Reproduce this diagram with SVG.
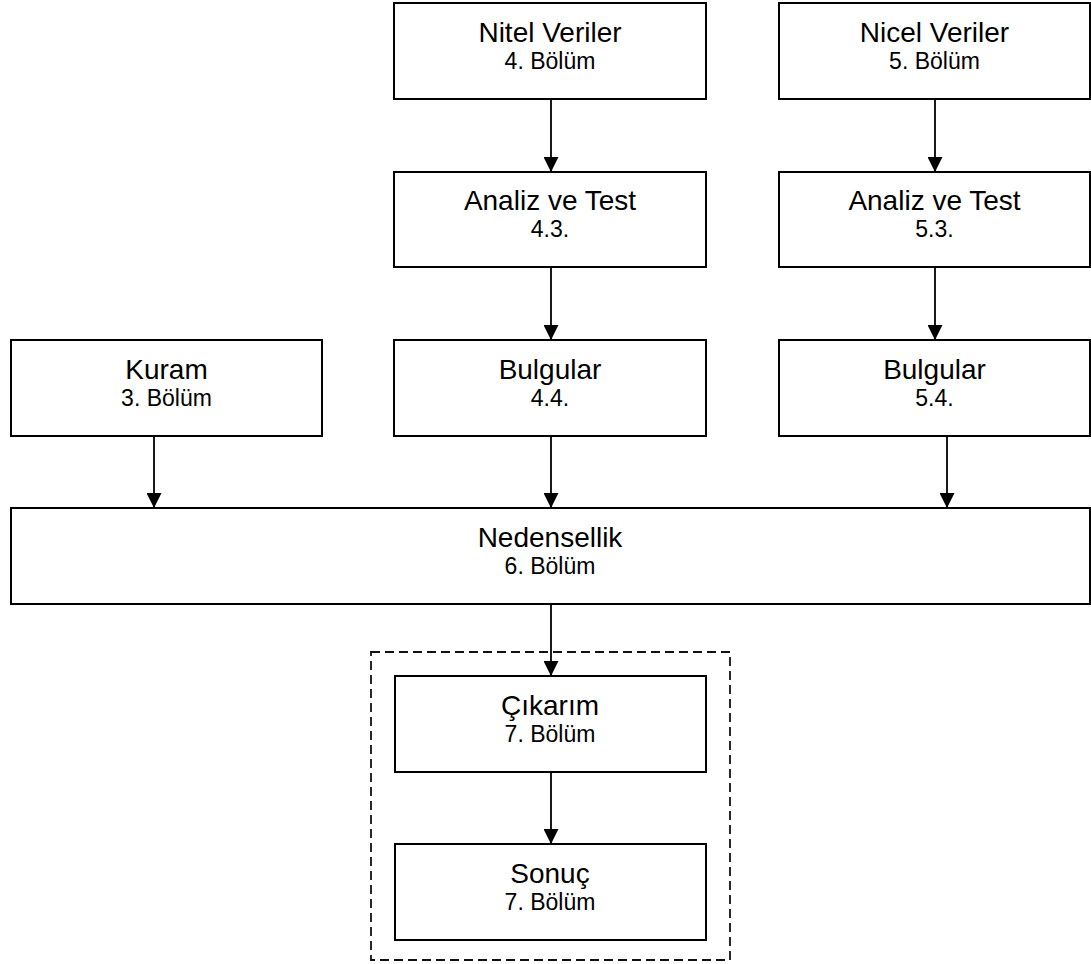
<svg xmlns="http://www.w3.org/2000/svg" width="1091" height="964" viewBox="0 0 1091 964">
  <style>
    .box { fill: #ffffff; stroke: #000000; stroke-width: 2; }
    .title { font-family: "Liberation Sans", Arial, sans-serif; font-size: 28px; fill: #000000; text-anchor: middle; }
    .sub { font-family: "Liberation Sans", Arial, sans-serif; font-size: 23px; fill: #000000; text-anchor: middle; }
    .link { fill: none; stroke: #000000; stroke-width: 1.8; }
    .frame { fill: none; stroke: #111111; stroke-width: 1.8; stroke-dasharray: 9 5; }
  </style>
  <defs>
    <marker id="arrow" viewBox="0 0 15 15" refX="15" refY="7.5" markerWidth="15" markerHeight="15" markerUnits="userSpaceOnUse" orient="auto">
      <path d="M0,0 L15,7.5 L0,15 z" fill="#000000"/>
    </marker>
  </defs>

  <rect width="1091" height="964" fill="#ffffff"/>

  <!-- dashed grouping frame around the conclusion chapter -->
  <rect id="chapter7-frame" class="frame" x="371" y="652" width="359" height="308"/>

  <!-- connectors -->
  <g id="connectors">
    <line class="link" x1="551" y1="99" x2="551" y2="172" marker-end="url(#arrow)"/>
    <line class="link" x1="935" y1="99" x2="935" y2="172" marker-end="url(#arrow)"/>
    <line class="link" x1="551" y1="267" x2="551" y2="340" marker-end="url(#arrow)"/>
    <line class="link" x1="935" y1="267" x2="935" y2="340" marker-end="url(#arrow)"/>
    <line class="link" x1="154" y1="436" x2="154" y2="508" marker-end="url(#arrow)"/>
    <line class="link" x1="551" y1="436" x2="551" y2="508" marker-end="url(#arrow)"/>
    <line class="link" x1="947" y1="436" x2="947" y2="508" marker-end="url(#arrow)"/>
    <line class="link" x1="551" y1="604" x2="551" y2="676" marker-end="url(#arrow)"/>
    <line class="link" x1="551" y1="772" x2="551" y2="844" marker-end="url(#arrow)"/>
  </g>

  <!-- nodes -->
  <g id="nitel-veriler">
    <rect class="box" x="394" y="3" width="312" height="96"/>
    <text class="title" x="550" y="42">Nitel Veriler</text>
    <text class="sub" x="550" y="69">4. Bölüm</text>
  </g>
  <g id="nicel-veriler">
    <rect class="box" x="779" y="3" width="311" height="96"/>
    <text class="title" x="934.5" y="42">Nicel Veriler</text>
    <text class="sub" x="934.5" y="69">5. Bölüm</text>
  </g>
  <g id="analiz-test-4">
    <rect class="box" x="394" y="172" width="312" height="95"/>
    <text class="title" x="550" y="210">Analiz ve Test</text>
    <text class="sub" x="550" y="237">4.3.</text>
  </g>
  <g id="analiz-test-5">
    <rect class="box" x="779" y="172" width="311" height="95"/>
    <text class="title" x="934.5" y="210">Analiz ve Test</text>
    <text class="sub" x="934.5" y="237">5.3.</text>
  </g>
  <g id="kuram">
    <rect class="box" x="11" y="340" width="311" height="96"/>
    <text class="title" x="166.5" y="379">Kuram</text>
    <text class="sub" x="166.5" y="406">3. Bölüm</text>
  </g>
  <g id="bulgular-4">
    <rect class="box" x="394" y="340" width="312" height="96"/>
    <text class="title" x="550" y="379">Bulgular</text>
    <text class="sub" x="550" y="406">4.4.</text>
  </g>
  <g id="bulgular-5">
    <rect class="box" x="779" y="340" width="311" height="96"/>
    <text class="title" x="934.5" y="379">Bulgular</text>
    <text class="sub" x="934.5" y="406">5.4.</text>
  </g>
  <g id="nedensellik">
    <rect class="box" x="11" y="508" width="1079" height="96"/>
    <text class="title" x="550" y="547">Nedensellik</text>
    <text class="sub" x="550" y="574">6. Bölüm</text>
  </g>
  <g id="cikarim">
    <rect class="box" x="395" y="676" width="311" height="96"/>
    <text class="title" x="550" y="715">Çıkarım</text>
    <text class="sub" x="550" y="742">7. Bölüm</text>
  </g>
  <g id="sonuc">
    <rect class="box" x="395" y="844" width="311" height="96"/>
    <text class="title" x="550" y="883">Sonuç</text>
    <text class="sub" x="550" y="910">7. Bölüm</text>
  </g>
</svg>
